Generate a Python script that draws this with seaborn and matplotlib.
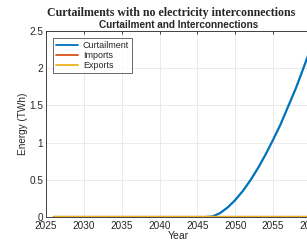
import numpy as np
import pandas as pd
import seaborn as sns
import matplotlib
matplotlib.use("Agg")
import matplotlib.pyplot as plt
from matplotlib.ticker import FuncFormatter

## Data
years = list(range(2026, 2061))
curtailment = [0.0] * 21 + [0.008, 0.054, 0.13, 0.23, 0.352, 0.495, 0.658,
                            0.84, 1.04, 1.25, 1.49, 1.73, 2.0, 2.28]
imports = [0.0] * len(years)
exports = [0.0] * len(years)

series_names = ["Curtailment", "Imports", "Exports"]
colors = ["#0072BD", "#D95319", "#EDB120"]

df = pd.DataFrame({
    "Year": years * 3,
    "Energy": curtailment + imports + exports,
    "Series": [s for s in series_names for _ in years],
})

sns.set_style("whitegrid")
plt.rcParams["font.family"] = ["Liberation Sans", "DejaVu Sans"]

fig = plt.figure(figsize=(3.07, 2.42), dpi=100)
ax = fig.add_axes([0.150, 0.103, 0.863, 0.769])

sns.lineplot(data=df, x="Year", y="Energy", hue="Series",
             palette=dict(zip(series_names, colors)), linewidth=1.6,
             ax=ax, legend=True)

ax.set_xlim(2025, 2060)
ax.set_ylim(0, 2.5)
ax.set_xticks(range(2025, 2061, 5))
ax.set_yticks([0, 0.5, 1, 1.5, 2, 2.5])
ax.yaxis.set_major_formatter(FuncFormatter(lambda v, p: f"{v:g}"))
ax.tick_params(direction="in", labelsize=7.2, length=2.5, width=0.6,
               colors="#262626", pad=2, top=True, right=True)
ax.tick_params(axis="x", pad=2.5)
ax.grid(True, color="#e6e6e6", linewidth=0.6)
for sp in ax.spines.values():
    sp.set_color("#262626")
    sp.set_linewidth(0.6)

ax.set_xlabel("Year", fontsize=7.5, labelpad=0.5)
ax.set_ylabel("Energy (TWh)", fontsize=7.2, labelpad=1)
ax.set_title("Curtailment and Interconnections", fontsize=7.2,
             fontweight="bold", pad=2.5,
             family=["Liberation Sans", "DejaVu Sans"])

leg = ax.legend(loc="upper left", fontsize=6.5, frameon=True, fancybox=False,
                borderpad=0.3, handlelength=2.5, handletextpad=0.5,
                labelspacing=0.12, borderaxespad=0,
                bbox_to_anchor=(0.027, 0.962))
leg.get_frame().set_edgecolor("#262626")
leg.get_frame().set_linewidth(0.6)
for line in leg.get_lines():
    line.set_linewidth(1.3)

fig.text(0.557, 0.948, "Curtailments with no electricity interconnections",
         ha="center", va="center", fontsize=8.6, fontweight="bold",
         family=["Liberation Serif", "DejaVu Serif"])

fig.savefig("out.png", dpi=100)
